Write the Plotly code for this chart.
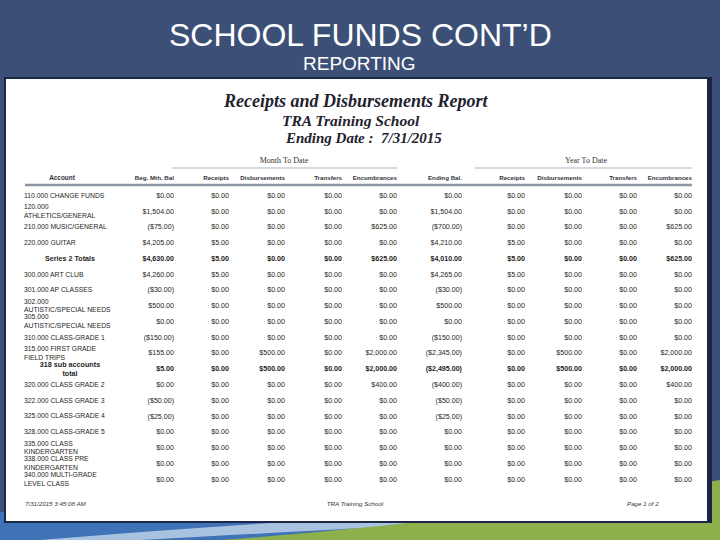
import plotly.graph_objects as go

# ---- report data ----
accounts = [
    "110.000 CHANGE FUNDS",
    "120.000<br>ATHLETICS/GENERAL",
    "210.000 MUSIC/GENERAL",
    "220.000 GUITAR",
    "Series 2 Totals",
    "300.000 ART CLUB",
    "301.000 AP CLASSES",
    "302.000<br>AUTISTIC/SPECIAL NEEDS",
    "305.000<br>AUTISTIC/SPECIAL NEEDS",
    "310.000 CLASS-GRADE 1",
    "315.000 FIRST GRADE<br>FIELD TRIPS",
    "318 sub accounts<br>total",
    "320.000 CLASS GRADE 2",
    "322.000 CLASS GRADE 3",
    "325.000 CLASS-GRADE 4",
    "328.000 CLASS-GRADE 5",
    "335.000 CLASS<br>KINDERGARTEN",
    "338.000 CLASS PRE<br>KINDERGARTEN",
    "340.000 MULTI-GRADE<br>LEVEL CLASS",
]
total_rows = [4, 11]

beg_bal = ["$0.00", "$1,504.00", "($75.00)", "$4,205.00", "$4,630.00", "$4,260.00",
           "($30.00)", "$500.00", "$0.00", "($150.00)", "$155.00", "$5.00",
           "$0.00", "($50.00)", "($25.00)", "$0.00", "$0.00", "$0.00", "$0.00"]
mtd_receipts = ["$0.00", "$0.00", "$0.00", "$5.00", "$5.00", "$5.00",
                "$0.00", "$0.00", "$0.00", "$0.00", "$0.00", "$0.00",
                "$0.00", "$0.00", "$0.00", "$0.00", "$0.00", "$0.00", "$0.00"]
mtd_disb = ["$0.00", "$0.00", "$0.00", "$0.00", "$0.00", "$0.00",
            "$0.00", "$0.00", "$0.00", "$0.00", "$500.00", "$500.00",
            "$0.00", "$0.00", "$0.00", "$0.00", "$0.00", "$0.00", "$0.00"]
mtd_transfers = ["$0.00"] * 19
mtd_encumb = ["$0.00", "$0.00", "$625.00", "$0.00", "$625.00", "$0.00",
              "$0.00", "$0.00", "$0.00", "$0.00", "$2,000.00", "$2,000.00",
              "$400.00", "$0.00", "$0.00", "$0.00", "$0.00", "$0.00", "$0.00"]
ending_bal = ["$0.00", "$1,504.00", "($700.00)", "$4,210.00", "$4,010.00", "$4,265.00",
              "($30.00)", "$500.00", "$0.00", "($150.00)", "($2,345.00)", "($2,495.00)",
              "($400.00)", "($50.00)", "($25.00)", "$0.00", "$0.00", "$0.00", "$0.00"]
ytd_receipts = ["$0.00", "$0.00", "$0.00", "$5.00", "$5.00", "$5.00",
                "$0.00", "$0.00", "$0.00", "$0.00", "$0.00", "$0.00",
                "$0.00", "$0.00", "$0.00", "$0.00", "$0.00", "$0.00", "$0.00"]
ytd_disb = ["$0.00", "$0.00", "$0.00", "$0.00", "$0.00", "$0.00",
            "$0.00", "$0.00", "$0.00", "$0.00", "$500.00", "$500.00",
            "$0.00", "$0.00", "$0.00", "$0.00", "$0.00", "$0.00", "$0.00"]
ytd_transfers = ["$0.00"] * 19
ytd_encumb = ["$0.00", "$0.00", "$625.00", "$0.00", "$625.00", "$0.00",
              "$0.00", "$0.00", "$0.00", "$0.00", "$2,000.00", "$2,000.00",
              "$400.00", "$0.00", "$0.00", "$0.00", "$0.00", "$0.00", "$0.00"]

col_headers = ["Beg. Mth. Bal", "Receipts", "Disbursements", "Transfers", "Encumbrances",
               "Ending Bal.", "Receipts", "Disbursements", "Transfers", "Encumbrances"]
columns = [beg_bal, mtd_receipts, mtd_disb, mtd_transfers, mtd_encumb,
           ending_bal, ytd_receipts, ytd_disb, ytd_transfers, ytd_encumb]

# ---- layout constants (pixel geometry of the slide) ----
W, H = 720, 540
col_right = [174, 229, 285, 342, 397, 462, 525, 582, 637, 692]
ROW0_PX, ROW_PX = 196, 15.77
TXT = "#1e1e24"
SANS = "Liberation Sans"


def row_of(px):
    return (px - ROW0_PX) / ROW_PX


def py(px):
    return 1 - px / H


def fmt(v, i):
    return f"<b>{v}</b>" if i in total_rows else v


rows = list(range(len(accounts)))
fig = go.Figure()

# account names (regular rows left aligned, total rows centred and bold)
reg = [i for i in rows if i not in total_rows]
fig.add_trace(go.Scatter(
    x=[24] * len(reg), y=reg, mode="text",
    text=[accounts[i] for i in reg], textposition="middle right",
    textfont=dict(family=SANS, size=6.8, color=TXT), hoverinfo="skip"))
fig.add_trace(go.Scatter(
    x=[70] * len(total_rows), y=total_rows, mode="text",
    text=[f"<b>{accounts[i]}</b>" for i in total_rows], textposition="middle center",
    textfont=dict(family=SANS, size=7.2, color=TXT), hoverinfo="skip"))

# numeric columns, right aligned at each column edge
for xr, vals in zip(col_right, columns):
    fig.add_trace(go.Scatter(
        x=[xr] * len(vals), y=rows, mode="text",
        text=[fmt(v, i) for i, v in enumerate(vals)], textposition="middle left",
        textfont=dict(family=SANS, size=7.1, color=TXT), hoverinfo="skip"))

# column headers
hdr_row = row_of(178)
fig.add_trace(go.Scatter(
    x=col_right, y=[hdr_row] * len(col_right), mode="text",
    text=[f"<b>{h}</b>" for h in col_headers], textposition="middle left",
    textfont=dict(family=SANS, size=6.2, color="#33333a"), hoverinfo="skip"))
fig.add_trace(go.Scatter(
    x=[62], y=[hdr_row], mode="text", text=["<b>Account</b>"],
    textposition="middle center",
    textfont=dict(family=SANS, size=6.4, color="#33333a"), hoverinfo="skip"))

# group headers
grp_row = row_of(161)
fig.add_trace(go.Scatter(
    x=[284, 586], y=[grp_row, grp_row], mode="text",
    text=["Month To Date", "Year To Date"], textposition="middle center",
    textfont=dict(family="Liberation Serif", size=8, color="#333"), hoverinfo="skip"))

# footer
foot_row = row_of(504)
fig.add_trace(go.Scatter(
    x=[25, 355, 627], y=[foot_row] * 3, mode="text",
    text=["<i>7/31/2015 3:45:08 AM</i>", "<i>TRA Training School</i>", "<i>Page 1 of 2</i>"],
    textposition=["middle right", "middle center", "middle right"],
    textfont=dict(family=SANS, size=6.2, color="#333"), hoverinfo="skip"))

# ---- background decoration: swoosh, white panel, rules ----
shapes = [
    dict(type="rect", xref="x", yref="paper", x0=0, x1=W, y0=py(540), y1=py(512),
         fillcolor="#3f72b6", line_width=0, layer="below"),
    dict(type="path", xref="x", yref="paper",
         path=f"M 40,{py(540)} Q 300,{py(518)} 720,{py(498)} L 720,{py(510)} Q 360,{py(528)} 140,{py(540)} Z",
         fillcolor="#a9c2e0", line_width=0, layer="below"),
    dict(type="path", xref="x", yref="paper",
         path=f"M 220,{py(540)} Q 470,{py(522)} 720,{py(480)} L 720,{py(540)} Z",
         fillcolor="#8db04c", line_width=0, layer="below"),
    dict(type="rect", xref="x", yref="paper", x0=5, x1=711, y0=py(522), y1=py(78),
         fillcolor="white", line=dict(color="#1c2746", width=2), layer="below"),
    dict(type="line", xref="x", yref="paper", x0=709, x1=709, y0=py(522), y1=py(78),
         line=dict(color="#1a2442", width=4), layer="below"),
    dict(type="line", xref="x", y0=row_of(185), y1=row_of(185), x0=25, x1=692,
         line=dict(color="#8e95a5", width=2.5), layer="below"),
    dict(type="line", xref="x", y0=row_of(168), y1=row_of(168), x0=172, x1=397,
         line=dict(color="#c9cdd5", width=1.5), layer="below"),
    dict(type="line", xref="x", y0=row_of(168), y1=row_of(168), x0=475, x1=692,
         line=dict(color="#c9cdd5", width=1.5), layer="below"),
]


def label(x, y, text, font):
    return dict(x=x / W, y=py(y), xref="paper", yref="paper", showarrow=False,
                xanchor="center", yanchor="middle", text=text, font=font)


annotations = [
    label(360, 35, "SCHOOL FUNDS CONT’D", dict(family=SANS, size=32, color="white")),
    label(359, 64, "REPORTING", dict(family=SANS, size=19, color="white")),
    label(356, 101, "<b><i>Receipts and Disbursements Report</i></b>",
          dict(family="Liberation Serif", size=18, color="#22222e")),
    label(351, 120, "<b><i>TRA Training School</i></b>",
          dict(family="Liberation Serif", size=15.5, color="#22222e")),
    label(363, 138, "<b><i>Ending Date :  7/31/2015</i></b>",
          dict(family="Liberation Serif", size=15, color="#22222e")),
]

fig.update_layout(
    width=W, height=H, autosize=False,
    margin=dict(l=0, r=0, t=0, b=0),
    paper_bgcolor="#3c5077", plot_bgcolor="rgba(0,0,0,0)",
    showlegend=False,
    shapes=shapes, annotations=annotations,
    xaxis=dict(range=[0, W], visible=False, fixedrange=True),
    yaxis=dict(range=[row_of(H), row_of(0)], visible=False, fixedrange=True),
)

fig.write_html(
    "out.html",
    config={"displayModeBar": False},
    post_script="document.body.style.margin='0';document.body.style.overflow='hidden';",
)
